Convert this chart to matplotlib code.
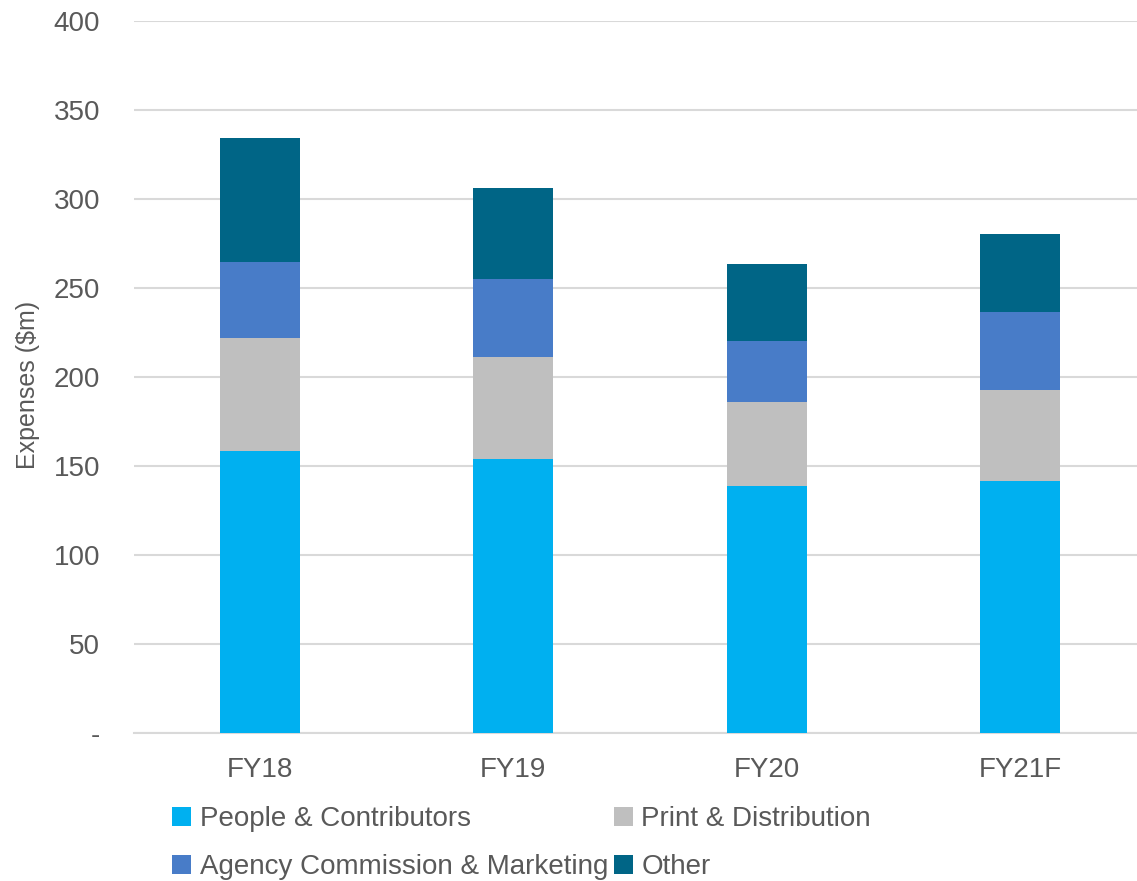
import matplotlib.pyplot as plt
import numpy as np

plt.rcParams['font.family'] = ['Liberation Sans', 'DejaVu Sans']

years = ['FY18', 'FY19', 'FY20', 'FY21F']
people = [158.4, 153.8, 138.9, 141.7]
print_dist = [63.3, 57.6, 46.9, 51.2]
agency = [43.1, 43.5, 34.6, 43.4]
other = [69.3, 51.1, 43.3, 44.0]

series = [
    ('People & Contributors', people, '#00B0F0'),
    ('Print & Distribution', print_dist, '#BFBFBF'),
    ('Agency Commission & Marketing', agency, '#487CC8'),
    ('Other', other, '#006586'),
]

grey = '#595959'

fig = plt.figure(figsize=(11.37, 8.81), dpi=100)
ax = fig.add_axes([133.5 / 1137, 1 - 733 / 881, (1146.5 - 133.5) / 1137, (733 - 21) / 881])

x = np.arange(len(years))
bottom = np.zeros(len(years))
handles = []
for name, vals, col in series:
    b = ax.bar(x, vals, width=0.316, bottom=bottom, color=col, label=name, zorder=3)
    handles.append(b)
    bottom += np.array(vals)

ax.set_xlim(-0.5, 3.5)
ax.set_ylim(0, 400)
ticks = list(range(0, 401, 50))
ax.set_yticks(ticks)
ax.set_yticklabels(['-'] + [str(t) for t in ticks[1:]])
ax.set_xticks(x)
ax.set_xticklabels(years)
ax.tick_params(axis='y', length=0, pad=24, labelsize=20, labelcolor=grey)
ax.tick_params(axis='x', length=0, pad=17, labelsize=20, labelcolor=grey)
ax.yaxis.grid(True, color='#D9D9D9', linewidth=1.5, zorder=0)
for s in ['top', 'right', 'left']:
    ax.spines[s].set_visible(False)
ax.spines['bottom'].set_color('#D9D9D9')
ax.spines['bottom'].set_linewidth(1.5)

fig.text(28 / 1137, 1 - 385 / 881, 'Expenses ($m)', rotation=90, ha='center', va='center',
         fontsize=18, color=grey)

# legend reads row by row in the reference, so reorder for column-major filling
order = [0, 2, 1, 3]
leg = fig.legend(handles=[handles[i] for i in order], loc='upper left',
                 bbox_to_anchor=(172 / 1137, 1 - 806 / 881),
                 ncol=2, frameon=False, fontsize=20, handlelength=0.7, handleheight=0.7,
                 handletextpad=0.3, columnspacing=0.2, borderpad=0, borderaxespad=0,
                 labelspacing=0.8)
for t in leg.get_texts():
    t.set_color(grey)

fig.savefig('out.png', dpi=100)
